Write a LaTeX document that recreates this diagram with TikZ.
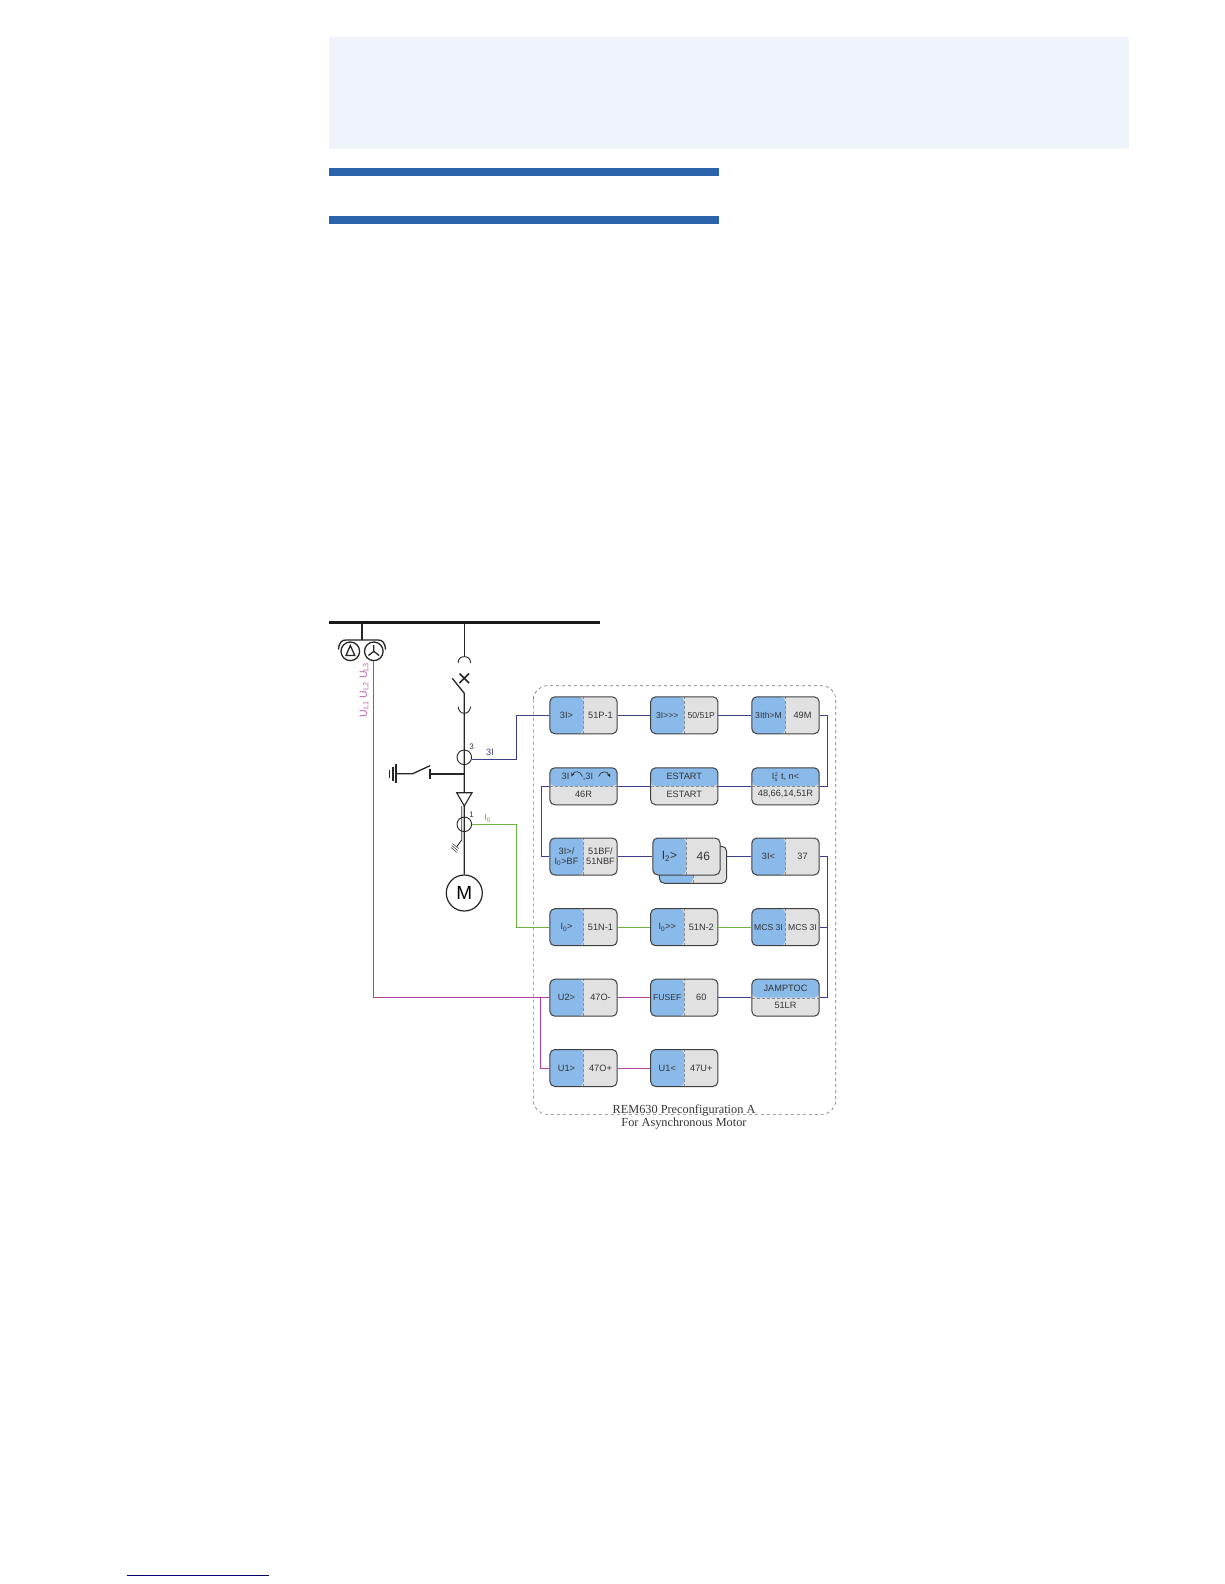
\documentclass[tikz,border=0pt]{standalone}
\usepackage{fontspec}
\setmainfont[Ligatures=TeXOff]{Liberation Sans}
\newfontfamily\capfont{Liberation Serif}
\definecolor{relayblue}{HTML}{8ABAE9}
\definecolor{relaygray}{HTML}{E1E1E1}
\definecolor{linkblue}{HTML}{3A3F8C}
\definecolor{linkgreen}{HTML}{6CB33F}
\definecolor{linkpink}{HTML}{B2409F}
\definecolor{panelblue}{HTML}{EFF3FA}
\definecolor{barblue}{HTML}{2C64AB}
\tikzset{
	relay/.style={draw=black!75, line width=1pt, rounded corners=5pt, minimum width=67.3pt, minimum height=37pt, inner sep=0pt},
	relayh/.style={relay, path picture={
		\fill[relaygray] (path picture bounding box.south west) rectangle (path picture bounding box.north east);
		\fill[relayblue] (path picture bounding box.south west) rectangle (path picture bounding box.north);
		\draw[black!45, densely dashed, line width=0.4pt] (path picture bounding box.south) -- (path picture bounding box.north);}},
	relayv/.style={relay, path picture={
		\fill[relaygray] (path picture bounding box.south west) rectangle (path picture bounding box.north east);
		\fill[relayblue] (path picture bounding box.north west) rectangle (path picture bounding box.east);
		\draw[black!45, densely dashed, line width=0.4pt] (path picture bounding box.west) -- (path picture bounding box.east);}},
	txt/.style={font=\fontsize{9.2}{10}\selectfont, text=black!80, inner sep=0pt, align=center},
	lefttxt/.style={txt, xshift=-17pt},
	righttxt/.style={txt, xshift=17pt},
	toptxt/.style={txt, yshift=9.5pt},
	bottxt/.style={txt, yshift=-8pt},
	tighttxt/.style={font=\fontsize{8.6}{10}\selectfont},
	sym/.style={black!85, line width=1.3pt},
	ctring/.style={draw=black!85, line width=0.9pt, circle, minimum size=14.6pt, inner sep=0pt},
	vtring/.style={draw=black!85, line width=1.3pt, circle, minimum size=18.6pt, inner sep=0pt},
	linkb/.style={linkblue, line width=0.9pt},
	linkg/.style={linkgreen, line width=0.9pt},
	linkp/.style={linkpink, line width=0.9pt},
}
\begin{document}
\begin{tikzpicture}[x=1pt, y=-1pt]
	\useasboundingbox (0,0) rectangle (1224,1584);

	% page furniture
	\fill[panelblue] (329.3,37.3) rectangle (1128.5,149);
	\fill[barblue] (329.3,168) rectangle (718.7,176);
	\fill[barblue] (329.3,216) rectangle (718.7,224);
	\draw[blue!40!black, line width=0.8pt] (127,1575.3) -- (268.7,1575.3);

	% busbar and voltage transformers
	\draw[black!90, line width=3pt] (329.3,622.7) -- (600,622.7);
	\draw[sym] (362,622.7) -- (362,640);
	\node [vtring] (vt1) at (350.3,651.3) {};
	\node [vtring] (vt2) at (373.8,651.3) {};
	\draw[sym] (338.5,649.5) .. controls (339,642) and (342,640) .. (346,640) -- (378,640) .. controls (382,640) and (385,642) .. (385.5,649.5);
	\draw[sym] (350.3,645.5) -- (346,655.5) -- (354.8,655.5) -- cycle;
	\draw[sym] (373.8,645) -- (373.8,651.3) -- (368.5,655.5);
	\draw[sym] (373.8,651.3) -- (379.1,655.5);
	\node [txt, text=linkpink!85, rotate=90, font=\fontsize{10.5}{11}\selectfont] (ulabel) at (364,690) {U\textsubscript{L1} U\textsubscript{L2} U\textsubscript{L3}};

	% feeder with breaker, transformers and motor
	\node [draw=black!85, line width=1.2pt, circle, minimum size=36pt, inner sep=0pt, font=\fontsize{19}{20}\selectfont] (motor) at (464.3,893) {M};
	\draw[sym] (464.3,622.7) -- (464.3,656.7);
	\draw[sym, line width=0.9pt] (458,662.7) .. controls (458.5,658) and (461,656.7) .. (464.3,656.7) .. controls (467.6,656.7) and (470.2,658) .. (470.7,662.7);
	\draw[sym, line width=1.6pt] (459.5,673.5) -- (469.1,683.1);
	\draw[sym, line width=1.6pt] (469.1,673.5) -- (459.5,683.1);
	\draw[sym] (452.3,678.3) -- (464.3,693.3) -- (motor.north);
	\draw[sym, line width=0.9pt] (458.2,706.7) .. controls (458.7,711) and (461,713.3) .. (464.3,713.3) .. controls (467.6,713.3) and (470,711) .. (470.6,706.7);
	\node [ctring] (ct3) at (464.3,757.3) {};
	\node [ctring] (ct1) at (464.3,824.3) {};
	\node [txt, font=\fontsize{8}{9}\selectfont] (ct3no) at (471.7,746.7) {3};
	\node [txt, font=\fontsize{8}{9}\selectfont] (ct1no) at (471.7,814.3) {1};
	\draw[sym, line width=1.1pt, fill=white] (456.7,792.7) -- (472,792.7) -- (464.3,806) -- cycle;
	\draw[sym, line width=0.9pt] (461.7,806) -- (461.7,840) -- (456.7,846.7);
	\draw[sym, line width=0.5pt] (452.5,843.5) -- (458.5,848.5);
	\draw[sym, line width=0.5pt] (451.7,845.5) -- (457.7,850.5);
	\draw[sym, line width=0.5pt] (451,847.5) -- (457,852.5);

	% earthing switch
	\draw[sym, line width=1.6pt] (464.3,773.7) -- (430,773.7);
	\draw[sym, line width=1.6pt] (430,769.3) -- (430,779.3);
	\draw[sym] (430,765.7) -- (412.7,773.7) -- (396,773.7);
	\draw[sym, line width=1.6pt] (396,764) -- (396,783.3);
	\draw[sym, line width=1.6pt] (392.7,766.7) -- (392.7,780.7);
	\draw[sym, line width=1.6pt] (389.3,770) -- (389.3,778);

	% REM630 frame
	\draw[black!55, dashed, line width=0.6pt, rounded corners=14pt] (533.3,685.7) rectangle (835.7,1114.3);
	\node [txt, font=\capfont\fontsize{12.3}{14}\selectfont] (cap1) at (684,1110) {REM630 Preconfiguration A};
	\node [txt, font=\capfont\fontsize{12.3}{14}\selectfont] (cap2) at (684,1124) {For Asynchronous Motor};

	% relay boxes, row by row
	\node [relayh] (b11) at (583.5,715.3) {};
	\node [lefttxt] (b11l) at (b11) {3I>};
	\node [righttxt] (b11r) at (b11) {51P-1};
	\node [relayh] (b12) at (684.3,715.3) {};
	\node [lefttxt, tighttxt] (b12l) at (b12) {3I>>>};
	\node [righttxt, tighttxt] (b12r) at (b12) {50/51P};
	\node [relayh] (b13) at (785.5,715.3) {};
	\node [lefttxt, tighttxt] (b13l) at (b13) {3Ith>M};
	\node [righttxt] (b13r) at (b13) {49M};

	\node [relayv] (b21) at (583.5,786.3) {};
	\node [txt] (b21t) at (565.5,776.8) {3I};
	\node [txt] (b21u) at (588,776.8) {,3I};
	\node [bottxt] (b21b) at (b21) {46R};
	\draw[black!85, line width=0.6pt, ->, >=stealth] (582.5,776.5) .. controls (580,770.5) and (574,770.5) .. (571.5,776.5);
	\draw[black!85, line width=0.6pt, ->, >=stealth] (598.5,776.5) .. controls (601,770.5) and (607,770.5) .. (610,777);
	\node [relayv] (b22) at (684.3,786.3) {};
	\node [toptxt] (b22t) at (b22) {ESTART};
	\node [bottxt] (b22b) at (b22) {ESTART};
	\node [relayv] (b23) at (785.5,786.3) {};
	\node [toptxt] (b23t) at (b23) {$\mathrm{I}_{\mathrm{s}}^{2}$ t, n<};
	\node [bottxt] (b23b) at (b23) {48,66,14,51R};

	\node [relayh] (b31) at (583.5,856.5) {};
	\node [lefttxt] (b31l) at (b31) {3I>/\\I\textsubscript{0}>BF};
	\node [righttxt] (b31r) at (b31) {51BF/\\51NBF};
	\node [relayh] (b32b) at (693,864.8) {};
	\node [relayh] (b32) at (686.4,856.5) {};
	\node [lefttxt, font=\fontsize{12}{13}\selectfont] (b32l) at (b32) {I\textsubscript{2}>};
	\node [righttxt, font=\fontsize{12}{13}\selectfont] (b32r) at (b32) {46};
	\node [relayh] (b33) at (785.5,856.5) {};
	\node [lefttxt] (b33l) at (b33) {3I<};
	\node [righttxt] (b33r) at (b33) {37};

	\node [relayh] (b41) at (583.5,927.2) {};
	\node [lefttxt] (b41l) at (b41) {I\textsubscript{0}>};
	\node [righttxt] (b41r) at (b41) {51N-1};
	\node [relayh] (b42) at (684.3,927.2) {};
	\node [lefttxt] (b42l) at (b42) {I\textsubscript{0}>>};
	\node [righttxt] (b42r) at (b42) {51N-2};
	\node [relayh] (b43) at (785.5,927.2) {};
	\node [lefttxt, tighttxt] (b43l) at (b43) {MCS 3I};
	\node [righttxt, tighttxt] (b43r) at (b43) {MCS 3I};

	\node [relayh] (b51) at (583.5,997.7) {};
	\node [lefttxt] (b51l) at (b51) {U2>};
	\node [righttxt] (b51r) at (b51) {47O-};
	\node [relayh] (b52) at (684.3,997.7) {};
	\node [lefttxt, tighttxt] (b52l) at (b52) {FUSEF};
	\node [righttxt] (b52r) at (b52) {60};
	\node [relayv] (b53) at (785.5,997.7) {};
	\node [toptxt] (b53t) at (b53) {JAMPTOC};
	\node [bottxt] (b53b) at (b53) {51LR};

	\node [relayh] (b61) at (583.5,1068) {};
	\node [lefttxt] (b61l) at (b61) {U1>};
	\node [righttxt] (b61r) at (b61) {47O+};
	\node [relayh] (b62) at (684.3,1068) {};
	\node [lefttxt] (b62l) at (b62) {U1<};
	\node [righttxt] (b62r) at (b62) {47U+};

	% signal lines
	\coordinate (j3i) at (516.7,715.3);
	\coordinate (jr1) at (827.3,715.3);
	\coordinate (jl2) at (541.7,786.3);
	\coordinate (jr3) at (827.3,856.5);
	\coordinate (ji0) at (516.7,927.2);
	\coordinate (ju) at (373.8,997.7);
	\coordinate (ju2) at (540,997.7);

	\draw[linkb] (ct3.-15) -| (j3i) -- (b11.west);
	\draw[linkb] (b11.east) -- (b12.west);
	\draw[linkb] (b12.east) -- (b13.west);
	\draw[linkb] (b13.east) -- (jr1) |- (b23.east);
	\draw[linkb] (b23.west) -- (b22.east);
	\draw[linkb] (b22.west) -- (b21.east);
	\draw[linkb] (b21.west) -- (jl2) |- (b31.west);
	\draw[linkb] (b31.east) -- (b32.west);
	\draw[linkb] (b32b.east |- b33.west) -- (b33.west);
	\draw[linkb] (b33.east) -- (jr3) |- (b53.east);
	\draw[linkb] (b43.east) -- (jr3 |- b43.east);
	\draw[linkb] (b53.west) -- (b52.east);

	\draw[linkg] (ct1.east) -| (ji0) -- (b41.west);
	\draw[linkg] (b41.east) -- (b42.west);
	\draw[linkg] (b42.east) -- (b43.west);

	\draw[linkp] (vt2.south) -- (ju) -- (b51.west);
	\draw[linkp] (ju2) |- (b61.west);
	\draw[linkp] (b51.east) -- (b52.west);
	\draw[linkp] (b61.east) -- (b62.west);

	\node [txt, text=linkblue] (l3i) at (490,752.7) {3I};
	\node [txt, text=linkgreen] (li0) at (487.7,818.3) {I\textsubscript{0}};
\end{tikzpicture}
\end{document}
